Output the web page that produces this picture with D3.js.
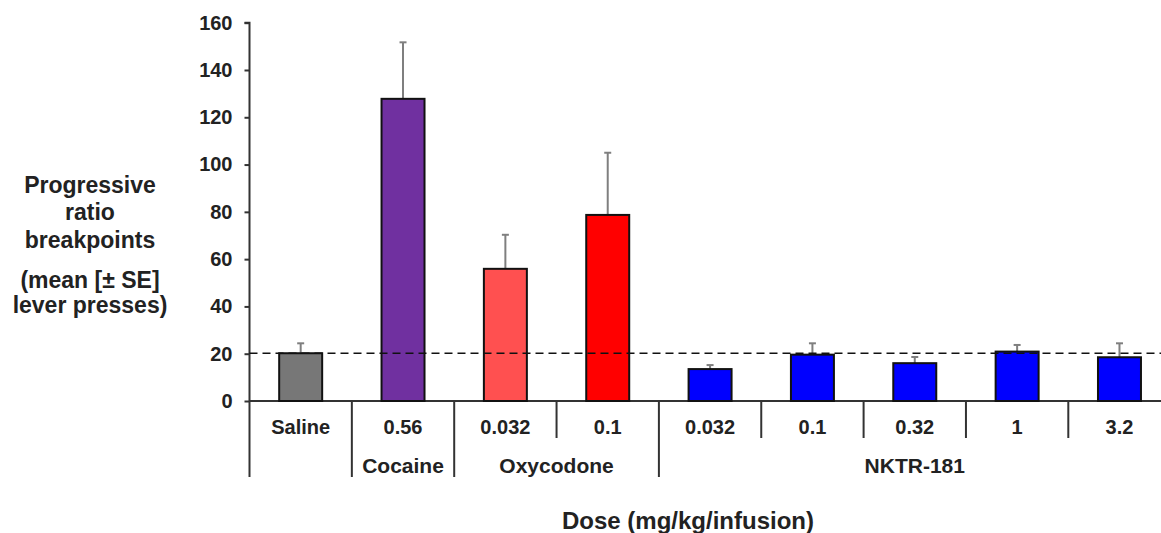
<!DOCTYPE html>
<html>
<head>
    <meta charset="utf-8"/>
    <title>Progressive ratio breakpoints</title>
    <script src="https://d3js.org/d3.v7.min.js"></script>
    <style>
        body { margin: 0; background: #fff; }
        text { font-family: "Liberation Sans", Arial, sans-serif; font-weight: bold; fill: #222; }
    </style>
</head>
<body>
    <div id="chart"></div>
    <script>
        // data
        var doseLabels = ["Saline", "0.56", "0.032", "0.1", "0.032", "0.1", "0.32", "1", "3.2"];
        var drugs = ["Saline", "Cocaine", "Oxycodone", "Oxycodone", "NKTR-181", "NKTR-181", "NKTR-181", "NKTR-181", "NKTR-181"];
        var means = [20.2, 127.8, 55.9, 78.7, 13.5, 19.6, 16.0, 20.9, 18.5];
        var errors = [4.2, 23.9, 14.4, 26.3, 1.7, 4.8, 2.6, 2.8, 5.9];
        var barColors = ["#777777", "#7030A0", "#FF5050", "#FF0000", "#0000FF", "#0000FF", "#0000FF", "#0000FF", "#0000FF"];
        var groupNames = ["", "Cocaine", "Oxycodone", "NKTR-181"];
        var groupStart = [0, 1, 2, 4];
        var groupSize = [1, 1, 2, 5];
        var yTicks = [0, 20, 40, 60, 80, 100, 120, 140, 160];
        var salineLine = 20.2;

        var W = 1161, H = 533;
        var x0 = 249.5, catW = 102.35;
        var svg = d3.select("#chart").append("svg")
            .attr("width", W).attr("height", H);

        var idx = d3.range(doseLabels.length);
        var x = d3.scaleBand()
            .domain(idx)
            .range([x0, x0 + catW * idx.length])
            .padding(0);
        var barFrac = 0.42;

        var y = d3.scaleLinear()
            .domain([0, 160])
            .range([401, 22.7]);

        // y axis
        var yAxis = svg.append("g")
            .attr("transform", "translate(" + x0 + ",0)")
            .call(d3.axisLeft(y).tickValues(yTicks).tickSize(5).tickPadding(12));
        yAxis.select(".domain").attr("stroke", "#333").attr("stroke-width", 2)
            .attr("d", "M-5," + y(160) + "H0V" + y(0));
        yAxis.selectAll(".tick line").attr("stroke", "#333").attr("stroke-width", 2);
        yAxis.selectAll(".tick text").style("font-size", "20px").attr("fill", "#222");

        // baseline
        svg.append("line")
            .attr("x1", x0).attr("x2", W)
            .attr("y1", y(0)).attr("y2", y(0))
            .attr("stroke", "#333").attr("stroke-width", 2);

        // error bars (upper only)
        var eb = svg.selectAll(".err").data(idx).enter().append("g");
        eb.append("line")
            .attr("x1", function(i) { return x(i) + x.bandwidth() / 2; })
            .attr("x2", function(i) { return x(i) + x.bandwidth() / 2; })
            .attr("y1", function(i) { return y(means[i]); })
            .attr("y2", function(i) { return y(means[i] + errors[i]); })
            .attr("stroke", "#7f7f7f").attr("stroke-width", 2);
        eb.append("line")
            .attr("x1", function(i) { return x(i) + x.bandwidth() / 2 - 3.5; })
            .attr("x2", function(i) { return x(i) + x.bandwidth() / 2 + 3.5; })
            .attr("y1", function(i) { return y(means[i] + errors[i]); })
            .attr("y2", function(i) { return y(means[i] + errors[i]); })
            .attr("stroke", "#7f7f7f").attr("stroke-width", 2);

        // bars
        svg.selectAll(".bar").data(idx).enter().append("rect")
            .attr("x", function(i) { return x(i) + x.bandwidth() * (1 - barFrac) / 2; })
            .attr("y", function(i) { return y(means[i]); })
            .attr("width", x.bandwidth() * barFrac)
            .attr("height", function(i) { return y(0) - y(means[i]); })
            .attr("fill", function(i) { return barColors[i]; })
            .attr("stroke", "#111").attr("stroke-width", 2);

        // saline reference line
        svg.append("line")
            .attr("x1", x0).attr("x2", W)
            .attr("y1", y(salineLine)).attr("y2", y(salineLine))
            .attr("stroke", "#111").attr("stroke-width", 1.5)
            .attr("stroke-dasharray", "8,5");

        // dose row dividers
        svg.selectAll(".div1").data(idx.slice(1)).enter().append("line")
            .attr("x1", function(i) { return x(i); })
            .attr("x2", function(i) { return x(i); })
            .attr("y1", y(0)).attr("y2", function(i) {
                return groupStart.indexOf(i) >= 0 ? 477 : 438;
            })
            .attr("stroke", "#333").attr("stroke-width", 2);
        svg.append("line")
            .attr("x1", x0).attr("x2", x0)
            .attr("y1", y(0)).attr("y2", 477)
            .attr("stroke", "#333").attr("stroke-width", 2);

        // dose labels
        svg.selectAll(".dose").data(idx).enter().append("text")
            .attr("x", function(i) { return x(i) + x.bandwidth() / 2; })
            .attr("y", 434)
            .attr("text-anchor", "middle")
            .style("font-size", "20px")
            .text(function(i) { return doseLabels[i]; });

        // drug group labels
        svg.selectAll(".grp").data(d3.range(groupNames.length)).enter().append("text")
            .attr("x", function(g) { return x(groupStart[g]) + x.bandwidth() * groupSize[g] / 2; })
            .attr("y", 473)
            .attr("text-anchor", "middle")
            .style("font-size", "21px")
            .text(function(g) { return groupNames[g]; });

        // axis titles
        svg.append("text")
            .attr("x", 688).attr("y", 529)
            .attr("text-anchor", "middle")
            .style("font-size", "24px")
            .text("Dose (mg/kg/infusion)");

        var yLab = [["Progressive", 193], ["ratio", 220], ["breakpoints", 248], ["(mean [\u00B1 SE]", 288], ["lever presses)", 313]];
        svg.selectAll(".ylab").data(yLab).enter().append("text")
            .attr("x", 90).attr("y", function(d) { return d[1]; })
            .attr("text-anchor", "middle")
            .style("font-size", "23px")
            .text(function(d) { return d[0]; });
    </script>
</body>
</html>
